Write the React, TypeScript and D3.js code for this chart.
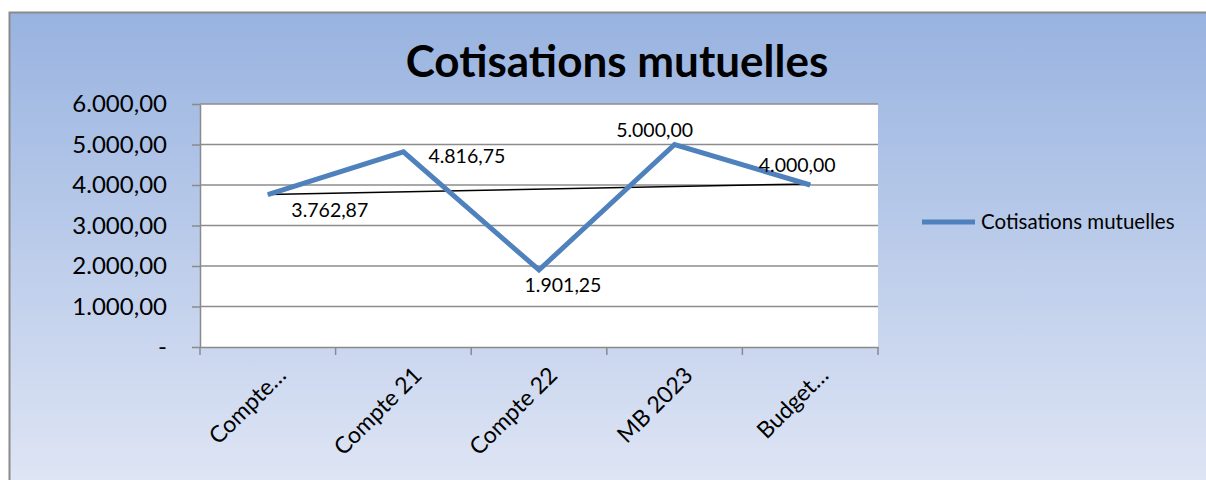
import React from 'react'
import { useEffect, useRef } from 'react'
import * as d3 from 'd3'

const categories = ['Compte…', 'Compte 21', 'Compte 22', 'MB 2023', 'Budget…']
const values = [3762.87, 4816.75, 1901.25, 5000, 4000]
const yTicks = [0, 1000, 2000, 3000, 4000, 5000, 6000]
const seriesName = 'Cotisations mutuelles'
const title = 'Cotisations mutuelles'
// where excel put each data label, relative to its point
const labelOffsets = [[62, 22], [25, 11], [24, 22], [-20, -8], [-13, -13]]

function App() {
  const svgRef = useRef(null)
  const width = 1206
  const height = 480
  const plot = { left: 200, right: 878, top: 104, bottom: 347 }
  const font = 'Lato, "Open Sans", sans-serif'

  useEffect(() => {
    const svg = d3.select(svgRef.current)
    svg.selectAll('*').remove()

    const defs = svg.append('defs')
    const grad = defs.append('linearGradient').attr('id', 'bg').attr('x1', 0).attr('x2', 0).attr('y1', 0).attr('y2', 1)
    grad.append('stop').attr('offset', '0%').attr('stop-color', '#98b3e0')
    grad.append('stop').attr('offset', '100%').attr('stop-color', '#e0e6f5')

    // frame: runs off the right and bottom edge, only left/top border visible
    svg.append('rect')
      .attr('x', 9.5).attr('y', 12.5)
      .attr('width', width).attr('height', height)
      .attr('fill', 'url(#bg)')
    svg.append('path')
      .attr('d', `M9.5,${height}V12.5H${width}`)
      .attr('fill', 'none')
      .attr('stroke', '#8a8a8a').attr('stroke-width', 2)

    svg.append('rect')
      .attr('x', plot.left).attr('y', plot.top)
      .attr('width', plot.right - plot.left).attr('height', plot.bottom - plot.top)
      .attr('fill', '#ffffff')

    const x = d3.scaleBand().domain(categories).range([plot.left, plot.right])
    const y = d3.scaleLinear().domain([0, 6000]).range([plot.bottom, plot.top])

    // gridlines
    svg.append('g')
      .selectAll('line')
      .data(yTicks.filter(t => t > 0))
      .enter().append('line')
      .attr('x1', plot.left).attr('x2', plot.right)
      .attr('y1', d => y(d)).attr('y2', d => y(d))
      .attr('stroke', '#8c8c8c').attr('stroke-width', 1.5)

    const fmt = (v: number) => v === 0 ? '-' : d3.formatLocale({ decimal: ',', thousands: '.', grouping: [3], currency: ['', ''] }).format(',.2f')(v)

    const yAxis = d3.axisLeft(y).tickValues(yTicks).tickFormat(d => fmt(+d)).tickSize(8).tickSizeOuter(0).tickPadding(25)
    const gy = svg.append('g').attr('transform', `translate(${plot.left},0)`).call(yAxis)
    gy.selectAll('path, line').attr('stroke', '#8a8a8a').attr('stroke-width', 1.5)
    gy.selectAll('text').attr('font-family', font).attr('font-size', 24).attr('fill', '#000')

    const xAxis = d3.axisBottom(x).tickValues([]).tickSizeOuter(0)
    const gx = svg.append('g').attr('transform', `translate(0,${plot.bottom})`).call(xAxis)
    gx.select('path').attr('stroke', '#8a8a8a').attr('stroke-width', 1.5)
    // category boundary ticks
    const bounds = categories.map(c => x(c)).concat([plot.right])
    gx.selectAll('line.b')
      .data(bounds)
      .enter().append('line')
      .attr('class', 'b')
      .attr('x1', d => d).attr('x2', d => d)
      .attr('y1', 0).attr('y2', 8)
      .attr('stroke', '#8a8a8a').attr('stroke-width', 1.5)

    gx.selectAll('text.cat')
      .data(categories)
      .enter().append('text')
      .attr('class', 'cat')
      .attr('transform', d => `translate(${x(d) + x.bandwidth() / 2 + 14},${24}) rotate(-45)`)
      .attr('text-anchor', 'end')
      .attr('dy', '0.35em')
      .attr('font-family', font).attr('font-size', 23)
      .attr('fill', '#000')
      .text(d => d)

    // trendline (linear regression)
    const n = values.length
    const xs = values.map((_, i) => i + 1)
    const mx = d3.mean(xs)
    const my = d3.mean(values)
    const slope = d3.sum(xs, (xi, i) => (xi - mx) * (values[i] - my)) / d3.sum(xs, xi => (xi - mx) ** 2)
    const icpt = my - slope * mx
    const cx = (i: number) => x(categories[i]) + x.bandwidth() / 2
    svg.append('line')
      .attr('x1', cx(0)).attr('y1', y(icpt + slope * 1))
      .attr('x2', cx(n - 1)).attr('y2', y(icpt + slope * n))
      .attr('stroke', '#000').attr('stroke-width', 1.5)

    const lineGen = d3.line<number>()
      .x((d, i) => cx(i))
      .y(d => y(d))
    svg.append('path')
      .datum(values)
      .attr('d', lineGen)
      .attr('fill', 'none')
      .attr('stroke', '#4f81bd')
      .attr('stroke-width', 5)
      .attr('stroke-linejoin', 'miter')

    svg.append('g')
      .selectAll('text')
      .data(values)
      .enter().append('text')
      .attr('x', (d, i) => cx(i) + labelOffsets[i][0])
      .attr('y', (d, i) => y(d) + labelOffsets[i][1])
      .attr('text-anchor', (d, i) => i === 1 ? 'start' : 'middle')
      .attr('font-family', font).attr('font-size', 19.5)
      .attr('fill', '#000')
      .text(d => fmt(d))

    // legend
    const lg = svg.append('g').attr('transform', 'translate(922,222)')
    lg.append('line').attr('x1', 0).attr('x2', 53).attr('y1', 0).attr('y2', 0)
      .attr('stroke', '#4f81bd').attr('stroke-width', 5)
    lg.append('text').attr('x', 59).attr('y', 0).attr('dy', '0.35em')
      .attr('font-family', font).attr('font-size', 20.5).attr('fill', '#000')
      .text(seriesName)

    svg.append('text')
      .attr('x', 617).attr('y', 77)
      .attr('text-anchor', 'middle')
      .attr('font-family', font).attr('font-weight', 'bold').attr('font-size', 44)
      .attr('fill', '#000')
      .text(title)
  }, [])

  return (
    <div>
      <svg ref={svgRef} width={width} height={height} style={{ position: 'fixed', top: 0, left: 0, display: 'block' }}></svg>
    </div>
  )
}

export default App
